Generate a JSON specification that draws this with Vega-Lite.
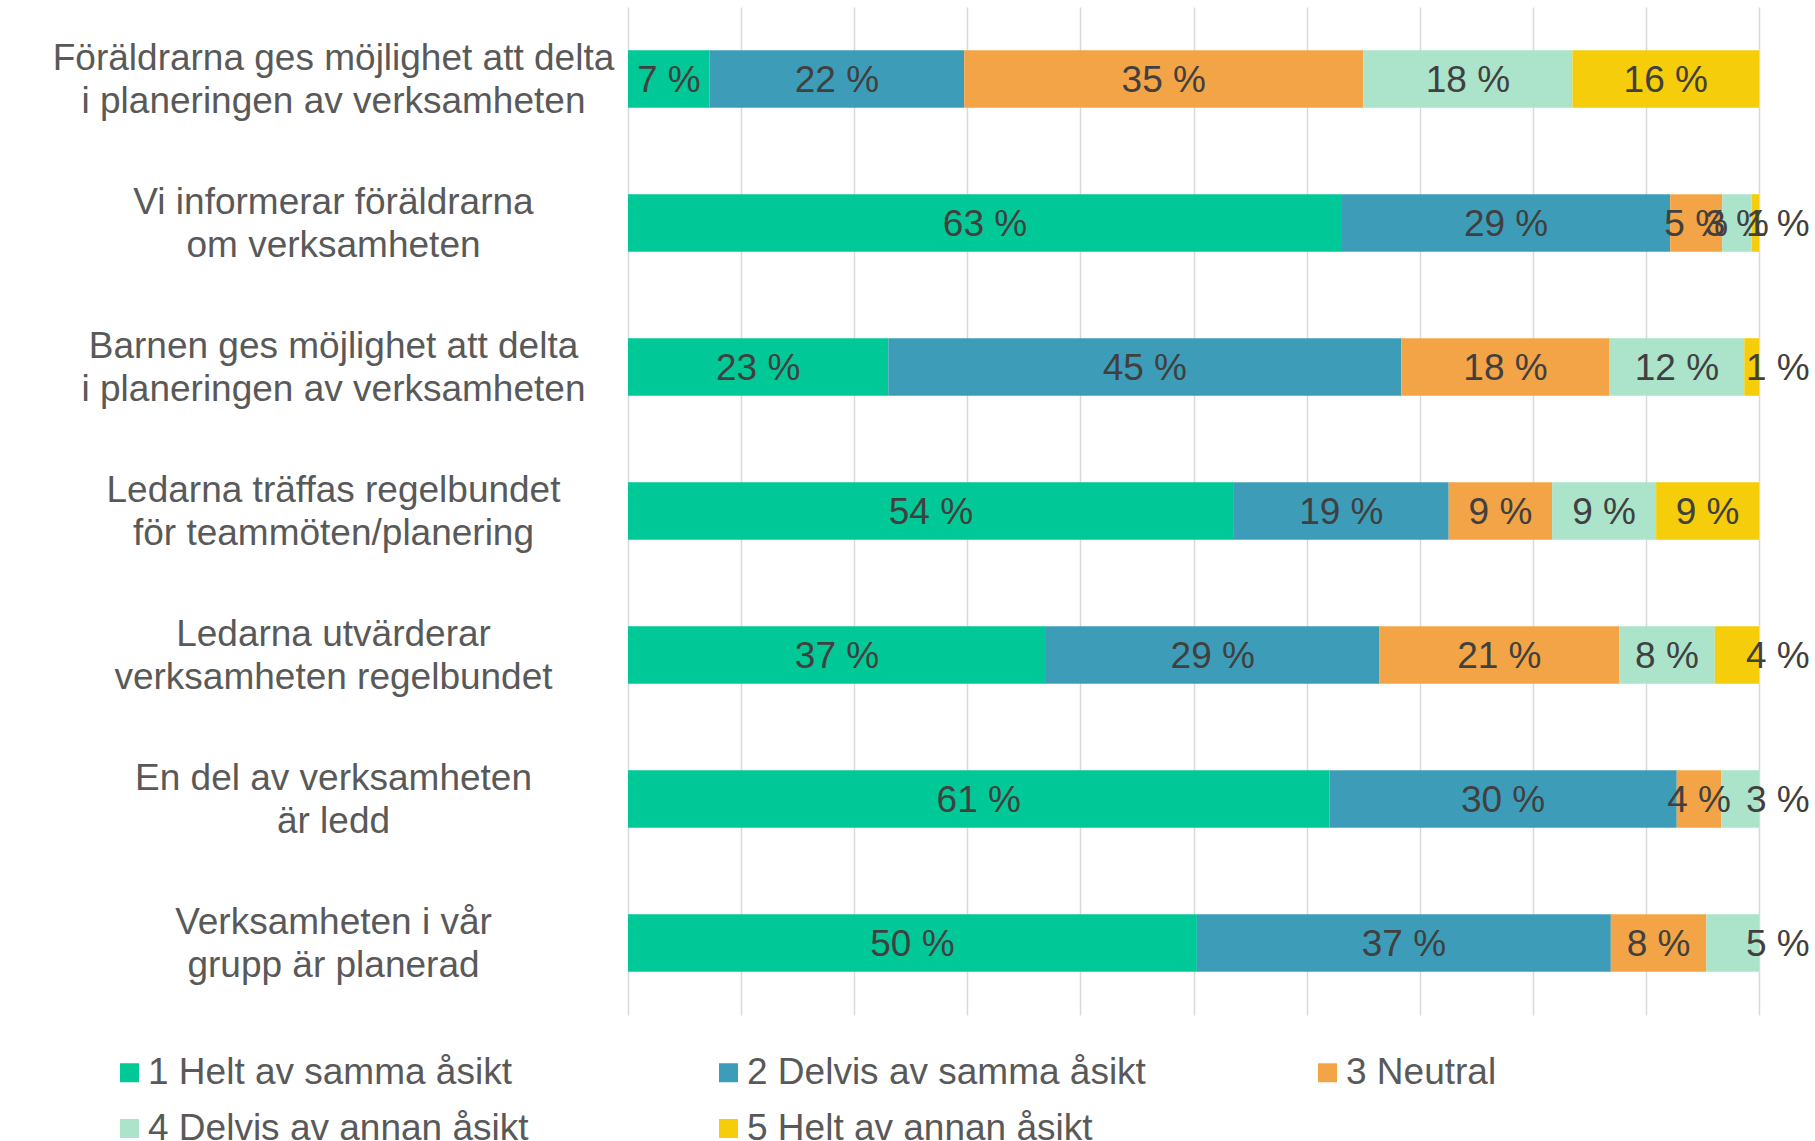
{
  "$schema": "https://vega.github.io/schema/vega-lite/v6.json",
  "width": 1131,
  "height": 1008,
  "autosize": {"type": "none"},
  "padding": {"left": 628, "top": 7, "right": 56, "bottom": 126},
  "background": "white",
  "config": {
    "view": {"stroke": null},
    "font": "Liberation Sans"
  },
  "data": {
    "values": [
      {"q": "Föräldrarna ges möjlighet att delta\ni planeringen av verksamheten", "svar": "1 Helt av samma åsikt", "k": 1, "value": 7.2},
      {"q": "Föräldrarna ges möjlighet att delta\ni planeringen av verksamheten", "svar": "2 Delvis av samma åsikt", "k": 2, "value": 22.45},
      {"q": "Föräldrarna ges möjlighet att delta\ni planeringen av verksamheten", "svar": "3 Neutral", "k": 3, "value": 35.2},
      {"q": "Föräldrarna ges möjlighet att delta\ni planeringen av verksamheten", "svar": "4 Delvis av annan åsikt", "k": 4, "value": 18.45},
      {"q": "Föräldrarna ges möjlighet att delta\ni planeringen av verksamheten", "svar": "5 Helt av annan åsikt", "k": 5, "value": 16.45},
      {"q": "Vi informerar föräldrarna\nom verksamheten", "svar": "1 Helt av samma åsikt", "k": 1, "value": 63.1},
      {"q": "Vi informerar föräldrarna\nom verksamheten", "svar": "2 Delvis av samma åsikt", "k": 2, "value": 29.0},
      {"q": "Vi informerar föräldrarna\nom verksamheten", "svar": "3 Neutral", "k": 3, "value": 4.6},
      {"q": "Vi informerar föräldrarna\nom verksamheten", "svar": "4 Delvis av annan åsikt", "k": 4, "value": 2.6},
      {"q": "Vi informerar föräldrarna\nom verksamheten", "svar": "5 Helt av annan åsikt", "k": 5, "value": 0.65},
      {"q": "Barnen ges möjlighet att delta\ni planeringen av verksamheten", "svar": "1 Helt av samma åsikt", "k": 1, "value": 23.0},
      {"q": "Barnen ges möjlighet att delta\ni planeringen av verksamheten", "svar": "2 Delvis av samma åsikt", "k": 2, "value": 45.35},
      {"q": "Barnen ges möjlighet att delta\ni planeringen av verksamheten", "svar": "3 Neutral", "k": 3, "value": 18.4},
      {"q": "Barnen ges möjlighet att delta\ni planeringen av verksamheten", "svar": "4 Delvis av annan åsikt", "k": 4, "value": 11.9},
      {"q": "Barnen ges möjlighet att delta\ni planeringen av verksamheten", "svar": "5 Helt av annan åsikt", "k": 5, "value": 1.3},
      {"q": "Ledarna träffas regelbundet\nför teammöten/planering", "svar": "1 Helt av samma åsikt", "k": 1, "value": 53.6},
      {"q": "Ledarna träffas regelbundet\nför teammöten/planering", "svar": "2 Delvis av samma åsikt", "k": 2, "value": 19.0},
      {"q": "Ledarna träffas regelbundet\nför teammöten/planering", "svar": "3 Neutral", "k": 3, "value": 9.15},
      {"q": "Ledarna träffas regelbundet\nför teammöten/planering", "svar": "4 Delvis av annan åsikt", "k": 4, "value": 9.2},
      {"q": "Ledarna träffas regelbundet\nför teammöten/planering", "svar": "5 Helt av annan åsikt", "k": 5, "value": 9.1},
      {"q": "Ledarna utvärderar\nverksamheten regelbundet", "svar": "1 Helt av samma åsikt", "k": 1, "value": 36.9},
      {"q": "Ledarna utvärderar\nverksamheten regelbundet", "svar": "2 Delvis av samma åsikt", "k": 2, "value": 29.45},
      {"q": "Ledarna utvärderar\nverksamheten regelbundet", "svar": "3 Neutral", "k": 3, "value": 21.15},
      {"q": "Ledarna utvärderar\nverksamheten regelbundet", "svar": "4 Delvis av annan åsikt", "k": 4, "value": 8.45},
      {"q": "Ledarna utvärderar\nverksamheten regelbundet", "svar": "5 Helt av annan åsikt", "k": 5, "value": 3.9},
      {"q": "En del av verksamheten\när ledd", "svar": "1 Helt av samma åsikt", "k": 1, "value": 61.4},
      {"q": "En del av verksamheten\när ledd", "svar": "2 Delvis av samma åsikt", "k": 2, "value": 30.4},
      {"q": "En del av verksamheten\när ledd", "svar": "3 Neutral", "k": 3, "value": 3.9},
      {"q": "En del av verksamheten\när ledd", "svar": "4 Delvis av annan åsikt", "k": 4, "value": 3.3},
      {"q": "Verksamheten i vår\ngrupp är planerad", "svar": "1 Helt av samma åsikt", "k": 1, "value": 50.3},
      {"q": "Verksamheten i vår\ngrupp är planerad", "svar": "2 Delvis av samma åsikt", "k": 2, "value": 36.6},
      {"q": "Verksamheten i vår\ngrupp är planerad", "svar": "3 Neutral", "k": 3, "value": 8.45},
      {"q": "Verksamheten i vår\ngrupp är planerad", "svar": "4 Delvis av annan åsikt", "k": 4, "value": 4.65}
    ]
  },
  "transform": [
    {"stack": "value", "groupby": ["q"], "sort": [{"field": "k", "order": "ascending"}], "offset": "normalize", "as": ["x0", "x1"]},
    {"calculate": "(datum.x0 + datum.x1) / 2", "as": "xm"},
    {"calculate": "format(datum.value, '.0f') + ' %'", "as": "label"}
  ],
  "encoding": {
    "y": {
      "field": "q",
      "type": "nominal",
      "sort": [
        "Föräldrarna ges möjlighet att delta\ni planeringen av verksamheten",
        "Vi informerar föräldrarna\nom verksamheten",
        "Barnen ges möjlighet att delta\ni planeringen av verksamheten",
        "Ledarna träffas regelbundet\nför teammöten/planering",
        "Ledarna utvärderar\nverksamheten regelbundet",
        "En del av verksamheten\när ledd",
        "Verksamheten i vår\ngrupp är planerad"
      ],
      "scale": {"paddingInner": 0.6, "paddingOuter": 0.3},
      "axis": {
        "title": null,
        "domain": false,
        "ticks": false,
        "tickSize": 0,
        "labelExpr": "split(datum.value, '\\n')",
        "labelAlign": "center",
        "labelBaseline": "middle",
        "labelPadding": 295,
        "labelOffset": -20,
        "labelFontSize": 37,
        "labelFont": "Liberation Sans",
        "labelColor": "#595959",
        "labelLineHeight": 43,
        "labelLimit": 0
      }
    }
  },
  "layer": [
    {
      "mark": {"type": "bar"},
      "encoding": {
        "x": {
          "field": "x0",
          "type": "quantitative",
          "scale": {"domain": [0, 1], "nice": false, "zero": true},
          "axis": {
            "title": null,
            "labels": false,
            "ticks": false,
            "domain": false,
            "grid": true,
            "values": [0, 0.1, 0.2, 0.3, 0.4, 0.5, 0.6, 0.7, 0.8, 0.9, 1],
            "gridColor": "#D9D9D9",
            "gridWidth": 1.5
          }
        },
        "x2": {"field": "x1"},
        "color": {
          "field": "svar",
          "type": "nominal",
          "scale": {
            "domain": ["1 Helt av samma åsikt", "2 Delvis av samma åsikt", "3 Neutral", "4 Delvis av annan åsikt", "5 Helt av annan åsikt"],
            "range": ["#00C997", "#3D9DB9", "#F3A447", "#ABE3CB", "#F5CD0A"]
          },
          "legend": {
            "title": null,
            "orient": "none",
            "legendX": -517,
            "legendY": 1047,
            "direction": "horizontal",
            "columns": 3,
            "gridAlign": "all",
            "columnPadding": 163,
            "rowPadding": 18,
            "padding": 0,
            "symbolType": "square",
            "symbolSize": 361,
            "symbolStrokeWidth": 0,
            "symbolOpacity": 1,
            "labelOffset": 0,
            "labelFontSize": 37,
            "labelFont": "Liberation Sans",
            "labelColor": "#595959",
            "labelLimit": 0
          }
        }
      }
    },
    {
      "transform": [{"filter": "!(datum.x1 > 0.999 && datum.x1 - datum.x0 < 0.06)"}],
      "mark": {"type": "text", "font": "Liberation Sans", "fontSize": 37, "color": "#404040", "align": "center", "baseline": "middle", "dy": 2},
      "encoding": {
        "x": {"field": "xm", "type": "quantitative"},
        "text": {"field": "label", "type": "nominal"}
      }
    },
    {
      "transform": [{"filter": "datum.x1 > 0.999 && datum.x1 - datum.x0 < 0.06"}],
      "mark": {"type": "text", "font": "Liberation Sans", "fontSize": 37, "color": "#404040", "align": "left", "baseline": "middle", "dy": 2, "dx": -13},
      "encoding": {
        "x": {"field": "x1", "type": "quantitative"},
        "text": {"field": "label", "type": "nominal"}
      }
    }
  ]
}
